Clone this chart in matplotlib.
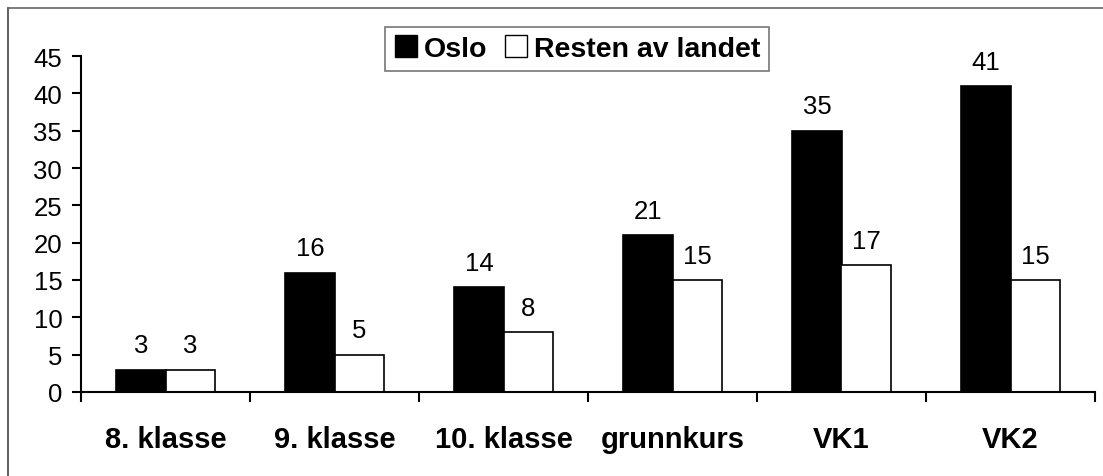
import matplotlib
matplotlib.use("Agg")
import matplotlib.pyplot as plt
import numpy as np
from matplotlib.lines import Line2D

categories = ["8. klasse", "9. klasse", "10. klasse", "grunnkurs", "VK1", "VK2"]
oslo = [3, 16, 14, 21, 35, 41]
resten = [3, 5, 8, 15, 17, 15]
series_names = ["Oslo", "Resten av landet"]
yticks = [0, 5, 10, 15, 20, 25, 30, 35, 40, 45]

plt.rcParams['font.family'] = ['Liberation Sans', 'DejaVu Sans']

fig = plt.figure(figsize=(11.03, 4.77), dpi=100)
ax = fig.add_axes([81/1103, 1-393/477, (1095-81)/1103, (393-57)/477])

x = np.arange(len(categories))
w = 0.29
b1 = ax.bar(x - w/2, oslo, w, color='black', edgecolor='black', linewidth=1.2, label=series_names[0])
b2 = ax.bar(x + w/2, resten, w, color='white', edgecolor='black', linewidth=1.2, label=series_names[1])

for bars, vals in ((b1, oslo), (b2, resten)):
    for r, v in zip(bars, vals):
        ax.annotate(str(v), (r.get_x() + r.get_width()/2, v), xytext=(0, 12.5), textcoords='offset points',
                    ha='center', va='baseline', fontsize=18.5)

ax.set_xlim(-0.5, len(categories) - 0.5)
ax.set_ylim(0, 45)
ax.set_yticks(yticks)
ax.set_yticklabels([str(t) for t in yticks], fontsize=18.5)
ax.tick_params(axis='y', direction='out', length=6.5, width=1.5, pad=7)

ax.set_xticks(np.arange(len(categories) + 1) - 0.5)
ax.set_xticklabels([])
ax.tick_params(axis='x', direction='out', length=7.5, width=1.5)
ax.set_xticks(x, minor=True)
ax.set_xticklabels(categories, minor=True, fontsize=21, fontweight='bold')
ax.tick_params(axis='x', which='minor', length=0, pad=23.5)

for s in ['top', 'right']:
    ax.spines[s].set_visible(False)
for s in ['left', 'bottom']:
    ax.spines[s].set_linewidth(1.5)

handles = [Line2D([], [], marker='s', linestyle='none', markersize=15.5, markerfacecolor='black', markeredgecolor='black'),
           Line2D([], [], marker='s', linestyle='none', markersize=15.5, markerfacecolor='white', markeredgecolor='black')]
leg = fig.legend(handles, series_names, loc='center', bbox_to_anchor=(577/1103, 1-50/477), ncol=2,
                 frameon=True, fancybox=False, prop={'weight': 'bold', 'size': 20.5},
                 handlelength=0.85, handletextpad=0.2, columnspacing=0.6, borderpad=0.3)
leg.get_frame().set_edgecolor('#555555')
leg.get_frame().set_linewidth(1.2)

# outer frame (left and top edges visible)
fig.add_artist(Line2D([8/1103, 8/1103], [0, 1-9/477], color='#444444', linewidth=1.2, transform=fig.transFigure))
fig.add_artist(Line2D([8/1103, 1], [1-9/477, 1-9/477], color='#666666', linewidth=1.2, transform=fig.transFigure))

fig.savefig("out.png", dpi=100)
